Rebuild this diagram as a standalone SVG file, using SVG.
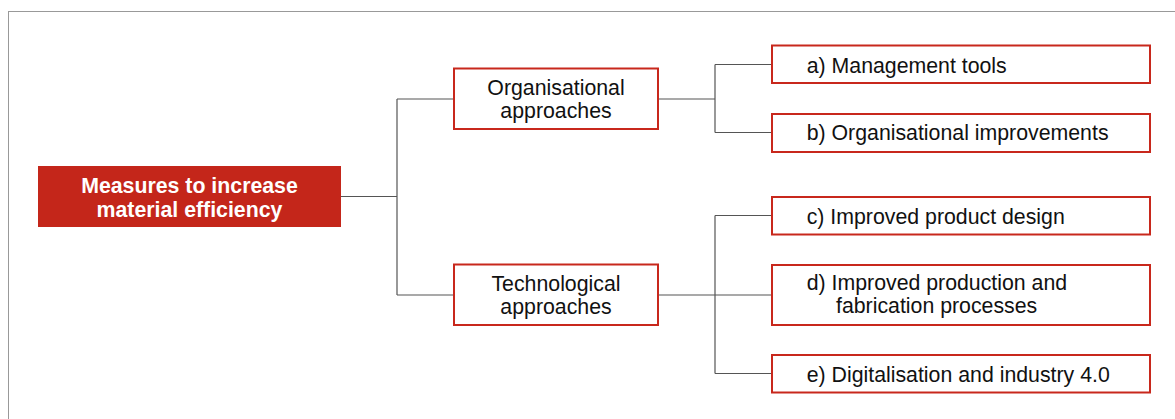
<svg xmlns="http://www.w3.org/2000/svg" width="1175" height="419" viewBox="0 0 1175 419">
<style>
.box{fill:#fff;stroke:#C8281C;stroke-width:2}
.t{font-family:"Liberation Sans",Arial,sans-serif;font-size:21.3px;fill:#111}
.c{text-anchor:middle}
.h{font-family:"Liberation Sans",Arial,sans-serif;font-size:21.3px;font-weight:bold;fill:#fff;text-anchor:middle}
.ln{fill:none;stroke:#555;stroke-width:1.2}
</style>
<rect x="0" y="0" width="1175" height="419" fill="#fff"/>
<rect x="8.5" y="11.5" width="1180" height="420" fill="none" stroke="#999" stroke-width="1"/>
<g id="connectors">
<path class="ln" d="M341 196.5H397M397 99V295M397 99H454M397 295H454"/>
<path class="ln" d="M658 99H715M715 64.5V132.5M715 64.5H772M715 132.5H772"/>
<path class="ln" d="M715 215.5V373.5M715 215.5H772M715 373.5H772"/>
<path class="ln" d="M658 295H772" stroke="#222"/>
</g>
<g id="root">
<rect x="38" y="166" width="303" height="61" fill="#C4261A"/>
<text class="h" x="189.5" y="192.7">Measures to increase</text>
<text class="h" x="189.5" y="216.7">material efficiency</text>
</g>
<g id="org">
<rect class="box" x="454" y="68.5" width="204" height="60.5"/>
<text class="t c" x="556" y="95">Organisational</text>
<text class="t c" x="556" y="118.3">approaches</text>
</g>
<g id="tech">
<rect class="box" x="454" y="264.5" width="204" height="60.5"/>
<text class="t c" x="556" y="290.7">Technological</text>
<text class="t c" x="556" y="314">approaches</text>
</g>
<g id="a">
<rect class="box" x="772" y="45.5" width="378" height="37.5"/>
<text class="t" x="806.7" y="73.3">a) Management tools</text>
</g>
<g id="b">
<rect class="box" x="772" y="114" width="378" height="38"/>
<text class="t" x="806.7" y="140">b) Organisational improvements</text>
</g>
<g id="c">
<rect class="box" x="772" y="197" width="378" height="37.5"/>
<text class="t" x="806.7" y="224.3">c) Improved product design</text>
</g>
<g id="d">
<rect class="box" x="772" y="265" width="378" height="60"/>
<text class="t" x="806.7" y="290">d) Improved production and</text>
<text class="t" x="836" y="312.7">fabrication processes</text>
</g>
<g id="e">
<rect class="box" x="772" y="355" width="378" height="37.5"/>
<text class="t" x="806.7" y="381.7">e) Digitalisation and industry 4.0</text>
</g>
</svg>
